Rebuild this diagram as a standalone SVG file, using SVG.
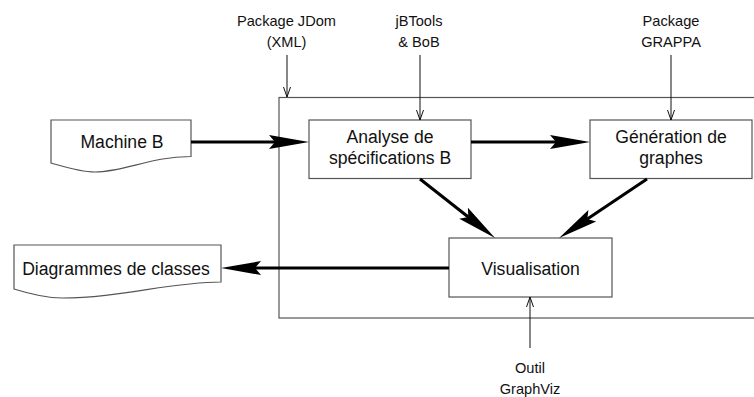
<svg xmlns="http://www.w3.org/2000/svg" width="754" height="397" viewBox="0 0 754 397">
<style>
.box{fill:#fff;stroke:#555;stroke-width:1.2}
.frame{fill:none;stroke:#555;stroke-width:1.2}
.t{font-family:"Liberation Sans",Arial,sans-serif;font-size:17.6px;fill:#111;text-anchor:middle}
.l{font-family:"Liberation Sans",Arial,sans-serif;font-size:14.6px;fill:#111;text-anchor:middle}
.thick{stroke:#000;stroke-width:3;fill:none;marker-end:url(#big)}
.thin{stroke:#111;stroke-width:1;fill:none;marker-end:url(#small)}
</style>
<defs>
<marker id="big" markerUnits="userSpaceOnUse" markerWidth="42" markerHeight="16" viewBox="0 -8 42 16" refX="6" refY="0" orient="auto" overflow="visible">
<path d="M0,-7 L40,0 L0,7 L6,0 Z" fill="#000"/>
</marker>
<marker id="small" markerUnits="userSpaceOnUse" markerWidth="12" markerHeight="10" viewBox="0 -5 12 10" refX="10" refY="0" orient="auto" overflow="visible">
<path d="M0,-3.5 L10,0 L0,3.5" fill="none" stroke="#111" stroke-width="1"/>
</marker>
</defs>
<rect class="frame" x="279" y="97.5" width="500" height="220.5"/>
<g id="machineB">
<path class="box" d="M51,120 H191 V156.5 C150,156.5 125,172 95,172 C80,172 65,167 51,163 Z"/>
<text class="t" x="122" y="148">Machine B</text>
</g>
<g id="analyse">
<rect class="box" x="309" y="120" width="162" height="58.5"/>
<text class="t" x="390" y="142.5">Analyse de</text>
<text class="t" x="390" y="163.5">spécifications B</text>
</g>
<g id="generation">
<rect class="box" x="590" y="120" width="162" height="58.5"/>
<text class="t" x="671" y="142.5">Génération de</text>
<text class="t" x="671" y="163.5">graphes</text>
</g>
<g id="visualisation">
<rect class="box" x="449" y="238" width="163" height="59"/>
<text class="t" x="530.5" y="275">Visualisation</text>
</g>
<g id="diagrammes">
<path class="box" d="M14,245 H221 V282 C170,282 120,298 62,298 C45,298 30,294 14,289 Z"/>
<text class="t" x="116" y="275">Diagrammes de classes</text>
</g>
<g id="lbl-jdom">
<text class="l" x="286.5" y="25.5">Package JDom</text>
<text class="l" x="286.5" y="47">(XML)</text>
</g>
<g id="lbl-jbtools">
<text class="l" x="419" y="25.5">jBTools</text>
<text class="l" x="419" y="47">&amp; BoB</text>
</g>
<g id="lbl-grappa">
<text class="l" x="671" y="25.5">Package</text>
<text class="l" x="671" y="47">GRAPPA</text>
</g>
<g id="lbl-graphviz">
<text class="l" x="530" y="373">Outil</text>
<text class="l" x="530" y="394">GraphViz</text>
</g>
<g id="connectors">
<line class="thick" x1="191" y1="142" x2="275" y2="142"/>
<line class="thick" x1="471" y1="142" x2="556" y2="142"/>
<line class="thick" x1="449" y1="268" x2="255" y2="268"/>
<line class="thick" x1="420" y1="179" x2="468.3" y2="217"/>
<line class="thick" x1="647" y1="179" x2="587.3" y2="219.1"/>
<line class="thin" x1="287" y1="55" x2="287" y2="97"/>
<line class="thin" x1="420" y1="55" x2="420" y2="120"/>
<line class="thin" x1="671" y1="55" x2="671" y2="120"/>
<line class="thin" x1="530" y1="348" x2="530" y2="297"/>
</g>
</svg>
